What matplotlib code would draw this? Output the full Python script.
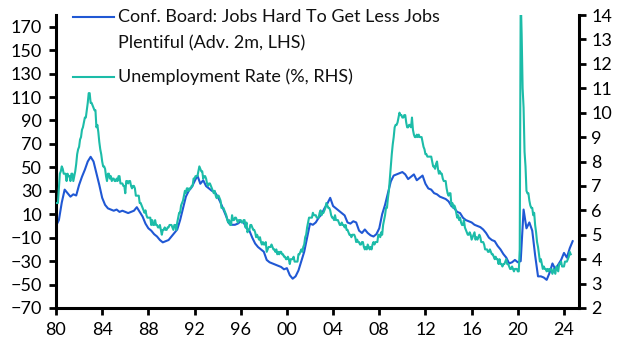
import numpy as np
import matplotlib
matplotlib.use("Agg")
import matplotlib.pyplot as plt
from matplotlib.lines import Line2D

plt.rcParams["font.family"] = ["Lato", "DejaVu Sans"]

BLUE = "#2058D4"
TEAL = "#1CBCA8"

# ── Data ────────────────────────────────────────────────────────────────
# Conf. Board: jobs hard to get less jobs plentiful (adv. 2m), quarterly from 1980Q1
cb_start = 1980.0
cb_diff = [
    0, 5, 20, 31,   28, 25, 27, 26,   35, 42, 48, 55,   59, 55, 45, 35,      # 80-83
    24, 18, 15, 14,  13, 14, 12, 13,   12, 11, 12, 13,   16, 12, 8, 2,       # 84-87
    -2, -4, -7, -9,  -12, -14, -13, -12,  -9, -6, -3, 5,  15, 25, 30, 33,    # 88-91
    38, 43, 36, 39,  34, 32, 30, 29,   25, 20, 14, 8,    2, 1, 1, 2,         # 92-95
    4, 3, -2, -4,    -10, -15, -18, -20,  -22, -29, -31, -32,  -33, -34, -35, -37,  # 96-99
    -36, -42, -45, -43,  -38, -30, -22, -10,  2, 1, 3, 7,  10, 15, 19, 24,   # 00-03
    17, 15, 13, 11,  9, 3, 2, 4,       3, -4, -6, -3,    -6, -8, -9, -7,     # 04-07
    -2, 10, 18, 28,  38, 43, 44, 45,   46, 44, 40, 42,   44, 39, 41, 43,     # 08-11
    36, 32, 31, 28,  27, 25, 24, 23,   21, 17, 15, 12,   11, 7, 5, 4,        # 12-15
    3, 1, 0, -1,     -3, -6, -10, -12,  -13, -17, -20, -24,  -27, -32, -31, -29,  # 16-19
    -31, -30, 14, -2,  3, -4, -25, -43,  -43, -44, -46, -40,  -32, -37, -33, -29,  # 20-23
    -23, -27, -19, -13,                                                      # 24
]

# US unemployment rate (%), monthly from Jan 1980
ur_start = 1980.0
unemp = [
    6.3, 6.3, 6.3, 6.9, 7.5, 7.6, 7.8, 7.7, 7.5, 7.5, 7.5, 7.2,
    7.5, 7.4, 7.4, 7.2, 7.5, 7.5, 7.2, 7.4, 7.6, 7.9, 8.3, 8.5,
    8.6, 8.9, 9.0, 9.3, 9.4, 9.6, 9.8, 9.8, 10.1, 10.4, 10.8, 10.8,
    10.4, 10.4, 10.3, 10.2, 10.1, 10.1, 9.4, 9.5, 9.2, 8.8, 8.5, 8.3,
    8.0, 7.8, 7.8, 7.7, 7.4, 7.2, 7.5, 7.5, 7.3, 7.4, 7.2, 7.3,
    7.3, 7.2, 7.2, 7.3, 7.2, 7.4, 7.4, 7.1, 7.1, 7.1, 7.0, 7.0,
    6.7, 7.2, 7.2, 7.1, 7.2, 7.2, 7.0, 6.9, 7.0, 7.0, 6.9, 6.6,
    6.6, 6.6, 6.6, 6.3, 6.3, 6.2, 6.1, 6.0, 5.9, 6.0, 5.8, 5.7,
    5.7, 5.7, 5.7, 5.4, 5.6, 5.4, 5.4, 5.6, 5.4, 5.4, 5.3, 5.3,
    5.4, 5.2, 5.0, 5.2, 5.2, 5.3, 5.2, 5.2, 5.3, 5.3, 5.4, 5.4,
    5.4, 5.3, 5.2, 5.4, 5.4, 5.2, 5.5, 5.7, 5.9, 5.9, 6.2, 6.3,
    6.4, 6.6, 6.8, 6.7, 6.9, 6.9, 6.8, 6.9, 6.9, 7.0, 7.0, 7.3,
    7.3, 7.4, 7.4, 7.4, 7.6, 7.8, 7.7, 7.6, 7.6, 7.3, 7.4, 7.4,
    7.3, 7.1, 7.0, 7.1, 7.1, 7.0, 6.9, 6.8, 6.7, 6.8, 6.6, 6.5,
    6.6, 6.6, 6.5, 6.4, 6.1, 6.1, 6.1, 6.0, 5.9, 5.8, 5.6, 5.5,
    5.6, 5.4, 5.4, 5.8, 5.6, 5.6, 5.7, 5.7, 5.6, 5.5, 5.6, 5.6,
    5.6, 5.5, 5.5, 5.6, 5.6, 5.3, 5.5, 5.1, 5.2, 5.2, 5.4, 5.4,
    5.3, 5.2, 5.2, 5.1, 4.9, 5.0, 4.9, 4.8, 4.9, 4.7, 4.6, 4.7,
    4.6, 4.6, 4.7, 4.3, 4.4, 4.5, 4.5, 4.5, 4.6, 4.5, 4.4, 4.4,
    4.3, 4.4, 4.2, 4.3, 4.2, 4.3, 4.3, 4.2, 4.2, 4.1, 4.1, 4.0,
    4.0, 4.1, 4.0, 3.8, 4.0, 4.0, 4.0, 4.1, 3.9, 3.9, 3.9, 3.9,
    4.2, 4.2, 4.3, 4.4, 4.3, 4.5, 4.6, 4.9, 5.0, 5.3, 5.5, 5.7,
    5.7, 5.7, 5.7, 5.9, 5.8, 5.8, 5.8, 5.7, 5.7, 5.7, 5.9, 6.0,
    5.8, 5.9, 5.9, 6.0, 6.1, 6.3, 6.2, 6.1, 6.1, 6.0, 5.8, 5.7,
    5.7, 5.6, 5.8, 5.6, 5.6, 5.6, 5.5, 5.4, 5.4, 5.5, 5.4, 5.4,
    5.3, 5.4, 5.2, 5.2, 5.1, 5.0, 5.0, 4.9, 5.0, 5.0, 5.0, 4.9,
    4.7, 4.8, 4.7, 4.7, 4.6, 4.6, 4.7, 4.7, 4.5, 4.4, 4.5, 4.4,
    4.6, 4.5, 4.4, 4.5, 4.4, 4.6, 4.7, 4.6, 4.7, 4.7, 4.7, 5.0,
    5.0, 4.9, 5.1, 5.0, 5.4, 5.6, 5.8, 6.1, 6.1, 6.5, 6.8, 7.3,
    7.8, 8.3, 8.7, 9.0, 9.4, 9.5, 9.5, 9.6, 9.8, 10.0, 9.9, 9.9,
    9.8, 9.8, 9.9, 9.9, 9.6, 9.4, 9.4, 9.5, 9.5, 9.4, 9.8, 9.3,
    9.1, 9.0, 9.0, 9.1, 9.0, 9.1, 9.0, 9.0, 9.0, 8.8, 8.6, 8.5,
    8.3, 8.3, 8.2, 8.2, 8.2, 8.2, 8.2, 8.0, 7.8, 7.8, 7.7, 7.9,
    8.0, 7.7, 7.5, 7.6, 7.5, 7.5, 7.3, 7.2, 7.2, 7.2, 6.9, 6.7,
    6.6, 6.7, 6.7, 6.2, 6.3, 6.1, 6.2, 6.1, 5.9, 5.7, 5.8, 5.6,
    5.7, 5.5, 5.4, 5.4, 5.6, 5.3, 5.2, 5.1, 5.0, 5.0, 5.1, 5.0,
    4.8, 4.9, 5.0, 5.1, 4.8, 4.9, 4.8, 4.9, 5.0, 4.9, 4.7, 4.7,
    4.7, 4.6, 4.4, 4.4, 4.4, 4.3, 4.3, 4.4, 4.3, 4.2, 4.2, 4.1,
    4.0, 4.1, 4.0, 4.0, 3.8, 4.0, 3.8, 3.8, 3.7, 3.8, 3.8, 3.9,
    4.0, 3.8, 3.8, 3.7, 3.6, 3.6, 3.7, 3.6, 3.5, 3.6, 3.6, 3.6,
    3.5, 3.5, 4.4, 14.8, 13.2, 11.0, 10.2, 8.4, 7.8, 6.8, 6.7, 6.7,
    6.4, 6.2, 6.1, 6.1, 5.8, 5.9, 5.4, 5.1, 4.7, 4.5, 4.2, 3.9,
    4.0, 3.8, 3.6, 3.7, 3.6, 3.6, 3.5, 3.6, 3.5, 3.6, 3.6, 3.5,
    3.4, 3.6, 3.5, 3.4, 3.7, 3.6, 3.5, 3.8, 3.8, 3.9, 3.7, 3.7,
    3.7, 3.9, 3.9, 3.9, 4.0, 4.1, 4.3, 4.2,
]

cb_dates = cb_start + np.arange(len(cb_diff)) / 4
ur_dates = ur_start + np.arange(len(unemp)) / 12

x_ticks = list(range(1980, 2025, 4))
x_labels = [f"{t % 100:02d}" for t in x_ticks]
left_ticks = list(range(-70, 171, 20))
right_ticks = list(range(2, 15))

# ── Figure ──────────────────────────────────────────────────────────────
fig = plt.figure(figsize=(6.3, 3.54), dpi=100)
ax = fig.add_axes([56 / 630, 1 - 308 / 354, 523 / 630, 293 / 354])
ax2 = ax.twinx()

ax.plot(cb_dates, cb_diff, color=BLUE, lw=1.5, solid_joinstyle="round")
ax2.plot(ur_dates, unemp, color=TEAL, lw=1.5, solid_joinstyle="round")

ax.set_xlim(1980, 2025.3)
ax.set_ylim(-70, 180)
ax2.set_ylim(2, 14)

ax.set_xticks(x_ticks)
ax.set_xticklabels(x_labels)
ax.set_yticks(left_ticks)
ax2.set_yticks(right_ticks)

for a in (ax, ax2):
    a.spines["top"].set_visible(False)
    for s in ("left", "right", "bottom"):
        a.spines[s].set_linewidth(2.2)
    a.tick_params(axis="both", labelsize=13, width=2.0, length=5, direction="out")
ax.spines["right"].set_visible(False)
ax2.spines["left"].set_visible(False)
ax2.spines["bottom"].set_visible(False)
ax.tick_params(axis="y", pad=5)
ax.tick_params(axis="x", pad=5)
ax2.tick_params(axis="y", pad=4)

# Legend drawn by hand so the handle sits on the first text line
def legend_entry(y_px, color, lines):
    y = 1 - y_px / 354
    fig.add_artist(Line2D([73 / 630, 114 / 630], [y, y], color=color, lw=1.5,
                          transform=fig.transFigure))
    for i, txt in enumerate(lines):
        fig.text(118 / 630, 1 - (y_px + 26 * i) / 354, txt, fontsize=13,
                 va="center", ha="left", color="#111111")

legend_entry(17, BLUE, ["Conf. Board: Jobs Hard To Get Less Jobs",
                        "Plentiful (Adv. 2m, LHS)"])
legend_entry(77, TEAL, ["Unemployment Rate (%, RHS)"])

fig.savefig("out.png", dpi=100)
